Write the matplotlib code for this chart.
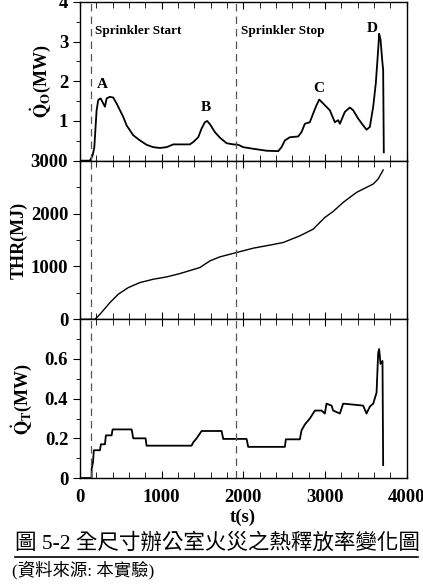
import matplotlib
matplotlib.use("Agg")
import matplotlib.pyplot as plt
from matplotlib.lines import Line2D
from matplotlib.ticker import MultipleLocator

plt.rcParams["font.family"] = ["Liberation Serif", "Noto Sans CJK TC"]
plt.rcParams["font.weight"] = "bold"
plt.rcParams["mathtext.fontset"] = "stix"

# 熱釋放率 Q_O (MW)
t_qo = [0, 122, 155, 176, 204, 224, 253, 286, 306, 327, 367, 408, 449, 490, 531, 571, 653, 735,
        816, 898, 980, 1061, 1143, 1245, 1347, 1388, 1449, 1490, 1531, 1559, 1592, 1653, 1714,
        1796, 1878, 1939, 2000, 2122, 2286, 2429, 2469, 2510, 2571, 2673, 2714, 2755, 2816, 2857,
        2898, 2931, 2980, 3061, 3122, 3163, 3184, 3245, 3306, 3347, 3408, 3469, 3510, 3551, 3592,
        3624, 3653, 3665, 3682, 3702, 3714, 3722]
qo = [0, 0, 0.13, 0.34, 1.27, 1.53, 1.57, 1.44, 1.36, 1.57, 1.61, 1.59, 1.44, 1.27, 1.10, 0.89,
      0.64, 0.51, 0.40, 0.34, 0.32, 0.34, 0.41, 0.41, 0.41, 0.47, 0.59, 0.81, 0.97, 1.00, 0.92,
      0.72, 0.58, 0.44, 0.41, 0.40, 0.34, 0.30, 0.25, 0.24, 0.34, 0.51, 0.59, 0.61, 0.72, 0.93,
      0.97, 1.19, 1.40, 1.54, 1.44, 1.27, 0.97, 1.02, 0.93, 1.23, 1.34, 1.27, 1.06, 0.89, 0.78,
      0.85, 1.36, 1.95, 2.80, 3.20, 3.05, 2.54, 2.29, 0.21]

# 總熱釋放量 THR (MJ)
t_thr = [0, 184, 245, 367, 469, 592, 735, 898, 1061, 1224, 1469, 1592, 1714, 1918, 2122, 2367,
         2490, 2694, 2857, 3000, 3102, 3224, 3388, 3510, 3592, 3653, 3714]
thr = [0, 0, 95, 316, 474, 600, 695, 758, 802, 865, 979, 1105, 1181, 1263, 1345, 1415, 1453,
       1579, 1705, 1926, 2040, 2211, 2400, 2495, 2558, 2653, 2823]

# Q_T (MW)
t_qt = [0, 143, 143, 160, 170, 192, 245, 257, 306, 318, 388, 400, 633, 653, 804, 816, 1367,
        1388, 1429, 1490, 1735, 1755, 2041, 2061, 2510, 2522, 2694, 2714, 2755, 2816, 2878,
        2959, 3000, 3020, 3082, 3102, 3184, 3224, 3469, 3510, 3551, 3592, 3633, 3653, 3665,
        3682, 3706, 3714]
qt = [0, 0, 0.045, 0.08, 0.14, 0.14, 0.14, 0.17, 0.17, 0.215, 0.215, 0.245, 0.245, 0.2, 0.2,
      0.163, 0.163, 0.18, 0.2, 0.237, 0.237, 0.197, 0.197, 0.157, 0.157, 0.195, 0.195, 0.24,
      0.27, 0.3, 0.34, 0.34, 0.325, 0.375, 0.365, 0.34, 0.325, 0.375, 0.365, 0.325, 0.36,
      0.375, 0.43, 0.63, 0.65, 0.575, 0.59, 0.065]

sprinkler = [135, 1910]

fig = plt.figure(figsize=(4.23, 5.84), dpi=100)
L, W, H = 0.189, 0.772, 0.2717
ax1 = fig.add_axes([L, 0.9966 - H, W, H])
ax2 = fig.add_axes([L, 0.9966 - 2 * H, W, H])
ax3 = fig.add_axes([L, 0.9966 - 3 * H, W, H])

ax1.plot(t_qo, qo, color="black", lw=1.3)
ax2.plot(t_thr, thr, color="black", lw=1.0)
ax3.plot(t_qt, qt, color="black", lw=1.3)

for ax in (ax1, ax2, ax3):
    ax.set_xlim(0, 4000)
    ax.xaxis.set_major_locator(MultipleLocator(1000))
    ax.xaxis.set_minor_locator(MultipleLocator(200))
    ax.tick_params(axis="x", which="both", direction="in", top=True, bottom=True, pad=8)
    ax.tick_params(axis="x", which="major", length=5)
    ax.tick_params(axis="x", which="minor", length=4)
    ax.tick_params(axis="y", which="both", direction="out", labelsize=13.5)
    ax.tick_params(axis="y", which="major", length=5)
    ax.tick_params(axis="y", which="minor", length=3)
    for s in sprinkler:
        ax.axvline(s, color="#555555", lw=0.9, ls=(0, (6, 4)))
    for sp in ax.spines.values():
        sp.set_linewidth(1.0)

ax1.set_ylim(0, 4)
ax1.yaxis.set_major_locator(MultipleLocator(1))
ax1.yaxis.set_minor_locator(MultipleLocator(0.5))
ax1.set_yticks([1, 2, 3, 4])
ax1.set_xticklabels([])
ax1.set_ylabel(r"$\mathbf{\dot{Q}_O}$(MW)", fontsize=13, fontweight="bold", labelpad=4)

ax2.set_ylim(0, 3000)
ax2.yaxis.set_major_locator(MultipleLocator(1000))
ax2.yaxis.set_minor_locator(MultipleLocator(500))
ax2.set_xticklabels([])
ax2.set_ylabel("THR(MJ)", fontsize=13, fontweight="bold", labelpad=2)

ax3.set_ylim(0, 0.8)
ax3.yaxis.set_minor_locator(MultipleLocator(0.1))
ax3.set_yticks([0, 0.2, 0.4, 0.6])
ax3.set_yticklabels(["0", "0.2", "0.4", "0.6"])
ax3.tick_params(axis="x", labelsize=13.5)
ax3.set_ylabel(r"$\mathbf{\dot{Q}_T}$(MW)", fontsize=13, fontweight="bold", labelpad=8)
ax3.set_xlabel("t(s)", fontsize=13.5, fontweight="bold", labelpad=2)

ax1.text(184, 3.27, "Sprinkler Start", fontsize=9.5, fontweight="bold", va="center")
ax1.text(1970, 3.27, "Sprinkler Stop", fontsize=9.5, fontweight="bold", va="center")
for lab, x, y in [("A", 280, 1.91), ("B", 1540, 1.33), ("C", 2930, 1.81), ("D", 3580, 3.32)]:
    ax1.text(x, y, lab, fontsize=11, fontweight="bold", ha="center", va="center")

fig.text(15 / 423, 1 - 543 / 584, "圖 5-2 全尺寸辦公室火災之熱釋放率變化圖", fontsize=15.5,
         fontweight="normal", va="center", ha="left")
fig.add_artist(Line2D([15 / 423, 418 / 423], [1 - 557 / 584, 1 - 557 / 584],
                      color="black", lw=1.2))
fig.text(12 / 423, 1 - 570 / 584, "(資料來源: 本實驗)", fontsize=12.5, fontweight="normal",
         va="center", ha="left")

fig.savefig("out.png", dpi=100)
